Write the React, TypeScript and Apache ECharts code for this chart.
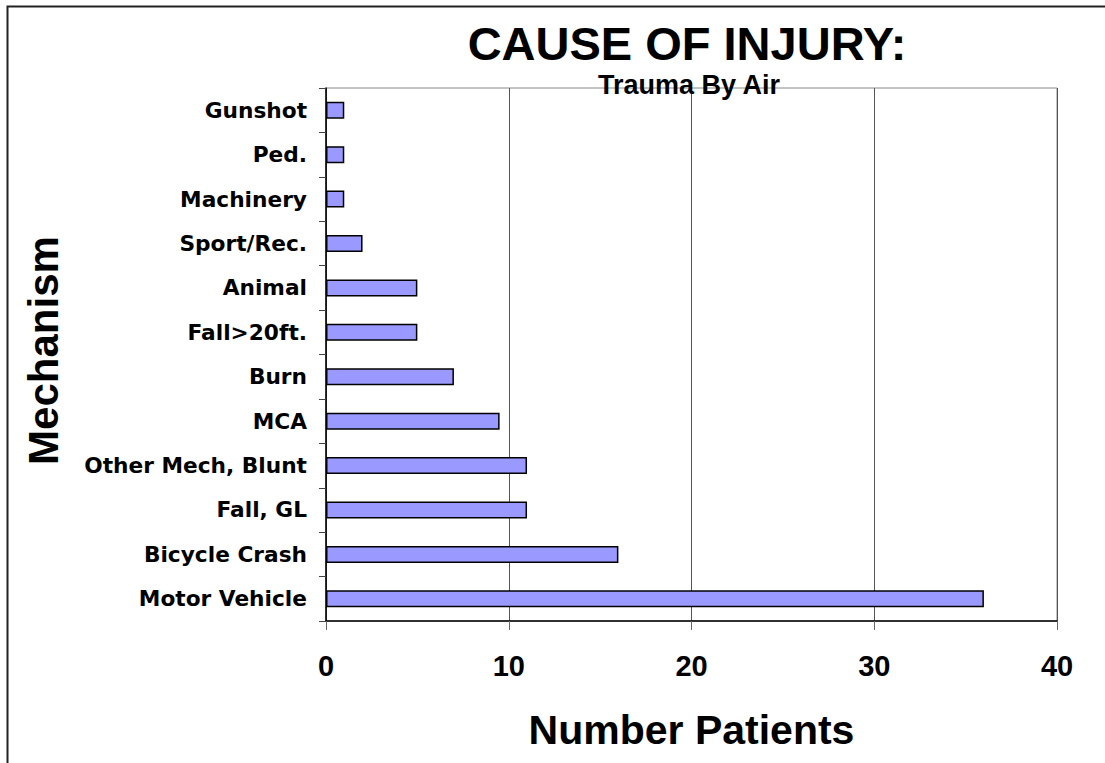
import React, { useEffect, useRef } from "react";
import * as echarts from "echarts";

// bottom-to-top order (ECharts category axis starts at the bottom)
const categories = [
  "Motor Vehicle",
  "Bicycle Crash",
  "Fall, GL",
  "Other Mech, Blunt",
  "MCA",
  "Burn",
  "Fall>20ft.",
  "Animal",
  "Sport/Rec.",
  "Machinery",
  "Ped.",
  "Gunshot",
];
const patients = [36, 16, 11, 11, 9.5, 7, 5, 5, 2, 1, 1, 1];
const xTicks = { min: 0, max: 40, interval: 10 };
const titleText = "CAUSE OF INJURY:";
const subtitleText = "Trauma By Air";
const xName = "Number Patients";
const yName = "Mechanism";

export default function App() {
  const ref = useRef<HTMLDivElement>(null);
  useEffect(() => {
    document.body.style.margin = "0";
    const chart = echarts.init(ref.current!, null, { renderer: "svg" });
    chart.setOption({
      animation: false,
      backgroundColor: "#fff",
      grid: {
        left: 326,
        right: 48,
        top: 88,
        bottom: 142,
        show: true,
        borderColor: "#888",
        borderWidth: 1,
      },
      graphic: [
        {
          type: "rect",
          shape: { x: 7.5, y: 6.5, width: 1300, height: 900 },
          style: { fill: "none", stroke: "#222", lineWidth: 2 },
          z: 100,
        },
        {
          type: "text",
          x: 687,
          y: 43,
          style: {
            text: titleText,
            font: "bold 47px 'Liberation Sans', Arial, sans-serif",
            lineHeight: 44,
            fill: "#000",
            textAlign: "center",
            textVerticalAlign: "middle",
          },
        },
        {
          type: "text",
          x: 689,
          y: 85,
          style: {
            text: subtitleText,
            font: "bold 27px 'Liberation Sans', Arial, sans-serif",
            lineHeight: 26,
            fill: "#000",
            textAlign: "center",
            textVerticalAlign: "middle",
          },
          z: 50,
        },
      ],
      xAxis: {
        type: "value",
        min: xTicks.min,
        max: xTicks.max,
        interval: xTicks.interval,
        name: xName,
        nameLocation: "middle",
        nameGap: 88,
        nameTextStyle: {
          fontFamily: "'Liberation Sans', Arial, sans-serif",
          fontWeight: "bold",
          fontSize: 41,
          color: "#000",
        },
        axisLine: { show: true, lineStyle: { color: "#000", width: 1.5 } },
        axisTick: { show: true, length: 9, lineStyle: { color: "#666" } },
        axisLabel: {
          margin: 30,
          fontFamily: "'Liberation Sans', Arial, sans-serif",
          fontWeight: "bold",
          fontSize: 29,
          color: "#000",
        },
        splitLine: { show: true, lineStyle: { color: "#555", width: 1 } },
      },
      yAxis: {
        type: "category",
        data: categories,
        name: yName,
        nameLocation: "middle",
        nameGap: 262,
        nameRotate: 90,
        nameTextStyle: {
          fontFamily: "'Liberation Sans', Arial, sans-serif",
          fontWeight: "bold",
          fontSize: 42,
          color: "#000",
          padding: [0, 0, 0, 8],
        },
        axisLine: { show: true, lineStyle: { color: "#000", width: 1.5 } },
        axisTick: { show: true, length: 7, lineStyle: { color: "#444" } },
        axisLabel: {
          margin: 19,
          fontFamily: "'DejaVu Sans', sans-serif",
          fontWeight: "bold",
          fontSize: 21.7,
          color: "#000",
        },
        splitLine: { show: false },
      },
      series: [
        {
          type: "bar",
          data: patients,
          barWidth: 17,
          itemStyle: { color: "#9999FF", borderColor: "#000", borderWidth: 1.5 },
        },
      ],
    });
    return () => chart.dispose();
  }, []);
  return <div ref={ref} style={{ width: 1105, height: 763 }} />;
}
